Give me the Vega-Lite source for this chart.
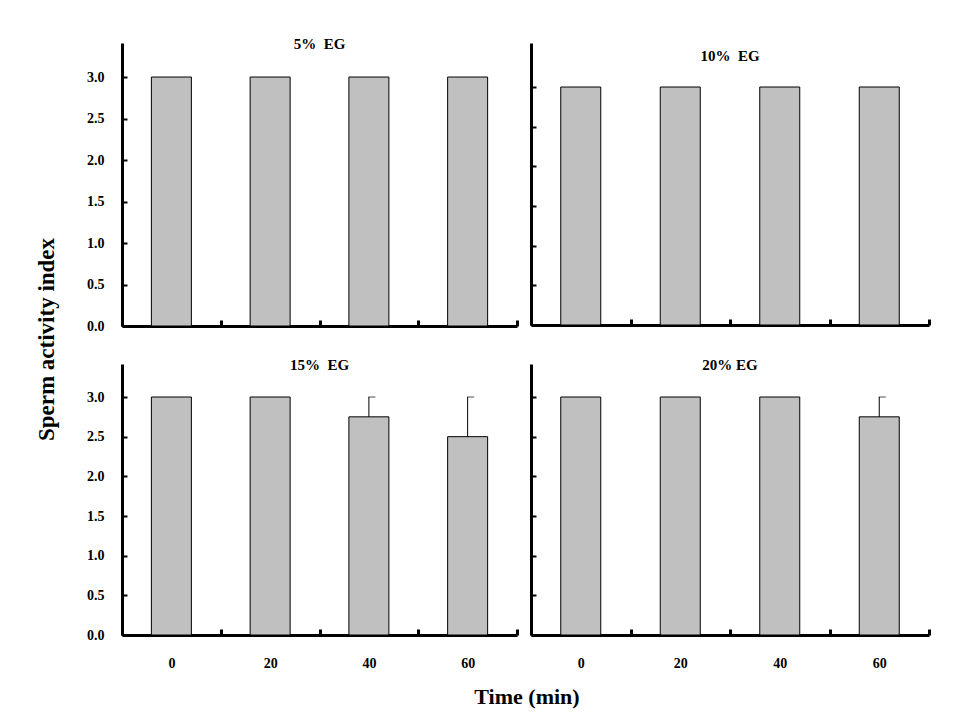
{
  "$schema": "https://vega.github.io/schema/vega-lite/v6.json",
  "background": "white",
  "padding": {"left": 35, "top": 37, "right": 5, "bottom": 5},
  "config": {
    "view": {"stroke": null},
    "font": "Liberation Serif",
    "axis": {"grid": false, "domainColor": "black", "tickColor": "black", "labelColor": "black", "labelFont": "Liberation Serif", "labelFontWeight": "bold", "labelFontSize": 14, "titleFont": "Liberation Serif", "titleFontWeight": "bold", "titleColor": "black"},
    "title": {"font": "Liberation Serif", "fontSize": 15, "fontWeight": "bold", "color": "black", "anchor": "middle", "frame": "group", "baseline": "middle"}
  },
  "data": {"values": [
    {"panel": "5%", "time": "0", "mean": 3.0},
    {"panel": "5%", "time": "20", "mean": 3.0},
    {"panel": "5%", "time": "40", "mean": 3.0},
    {"panel": "5%", "time": "60", "mean": 3.0},
    {"panel": "10%", "time": "0", "mean": 3.0},
    {"panel": "10%", "time": "20", "mean": 3.0},
    {"panel": "10%", "time": "40", "mean": 3.0},
    {"panel": "10%", "time": "60", "mean": 3.0},
    {"panel": "15%", "time": "0", "mean": 3.0},
    {"panel": "15%", "time": "20", "mean": 3.0},
    {"panel": "15%", "time": "40", "mean": 2.75, "upper": 3.0},
    {"panel": "15%", "time": "60", "mean": 2.5, "upper": 3.0},
    {"panel": "20%", "time": "0", "mean": 3.0},
    {"panel": "20%", "time": "20", "mean": 3.0},
    {"panel": "20%", "time": "40", "mean": 3.0},
    {"panel": "20%", "time": "60", "mean": 2.75, "upper": 3.0}
  ]},
  "title": {"text": "Time (min)", "orient": "bottom", "fontSize": 22, "baseline": "top", "offset": 17, "dx": 44, "frame": "bounds"},
  "vconcat": [
    {
      "title": {"text": "Sperm activity index", "orient": "left", "fontSize": 23, "baseline": "bottom", "offset": 5, "dx": 14, "frame": "bounds"},
      "columns": 2,
      "spacing": {"row": 25, "column": 10},
      "concat": [
        {
          "width": 395, "height": 283,
          "title": {"text": "5%\u00a0 EG", "offset": -9},
          "transform": [{"filter": "datum.panel == '5%'"}],
          "encoding": {
            "x": {"field": "time", "type": "nominal", "sort": ["0", "20", "40", "60"], "scale": {"paddingInner": 0, "paddingOuter": 0},
                  "axis": {"title": null, "labels": false, "domainWidth": 3, "tickBand": "extent", "tickSize": -6, "tickWidth": 3}},
            "y": {"field": "mean", "type": "quantitative", "title": null, "scale": {"domain": [0, 3.41], "nice": false},
                  "axis": {"values": [0, 0.5, 1, 1.5, 2, 2.5, 3], "format": ".1f", "domainWidth": 3, "tickSize": -5, "tickWidth": 2, "labelPadding": 23}}
          },
          "layer": [
            {"mark": {"type": "bar", "size": 40, "fill": "#c0c0c0", "stroke": "black", "strokeWidth": 1}},
            {"transform": [{"filter": "datum.upper != null"}], "mark": {"type": "rule", "color": "black", "strokeWidth": 1}, "encoding": {"y2": {"field": "upper"}}},
            {"transform": [{"filter": "datum.upper != null"}], "mark": {"type": "tick", "color": "black", "thickness": 1, "size": 7, "xOffset": 3}, "encoding": {"y": {"field": "upper", "type": "quantitative", "title": null}}}
          ]
        },
        {
          "width": 398, "height": 282,
          "title": {"text": "10%\u00a0 EG", "offset": -21},
          "transform": [{"filter": "datum.panel == '10%'"}],
          "encoding": {
            "x": {"field": "time", "type": "nominal", "sort": ["0", "20", "40", "60"], "scale": {"paddingInner": 0, "paddingOuter": 0},
                  "axis": {"title": null, "labels": false, "domainWidth": 3, "tickBand": "extent", "tickSize": -6, "tickWidth": 3}},
            "y": {"field": "mean", "type": "quantitative", "title": null, "scale": {"domain": [0, 3.555], "nice": false},
                  "axis": {"values": [0, 0.5, 1, 1.5, 2, 2.5, 3], "labels": false, "domainWidth": 3, "tickSize": -5, "tickWidth": 2}}
          },
          "layer": [
            {"mark": {"type": "bar", "size": 40, "fill": "#c0c0c0", "stroke": "black", "strokeWidth": 1}},
            {"transform": [{"filter": "datum.upper != null"}], "mark": {"type": "rule", "color": "black", "strokeWidth": 1}, "encoding": {"y2": {"field": "upper"}}},
            {"transform": [{"filter": "datum.upper != null"}], "mark": {"type": "tick", "color": "black", "thickness": 1, "size": 7, "xOffset": 3}, "encoding": {"y": {"field": "upper", "type": "quantitative", "title": null}}}
          ]
        },
        {
          "width": 395, "height": 271,
          "title": {"text": "15%\u00a0 EG", "offset": -9},
          "transform": [{"filter": "datum.panel == '15%'"}],
          "encoding": {
            "x": {"field": "time", "type": "nominal", "sort": ["0", "20", "40", "60"], "scale": {"paddingInner": 0, "paddingOuter": 0},
                  "axis": {"title": null, "labelAngle": 0, "labelPadding": 27, "domainWidth": 3, "tickBand": "extent", "tickSize": -6, "tickWidth": 3}},
            "y": {"field": "mean", "type": "quantitative", "title": null, "scale": {"domain": [0, 3.416], "nice": false},
                  "axis": {"values": [0, 0.5, 1, 1.5, 2, 2.5, 3], "format": ".1f", "domainWidth": 3, "tickSize": -5, "tickWidth": 2, "labelPadding": 23}}
          },
          "layer": [
            {"mark": {"type": "bar", "size": 40, "fill": "#c0c0c0", "stroke": "black", "strokeWidth": 1}},
            {"transform": [{"filter": "datum.upper != null"}], "mark": {"type": "rule", "color": "black", "strokeWidth": 1}, "encoding": {"y2": {"field": "upper"}}},
            {"transform": [{"filter": "datum.upper != null"}], "mark": {"type": "tick", "color": "black", "thickness": 1, "size": 7, "xOffset": 3}, "encoding": {"y": {"field": "upper", "type": "quantitative", "title": null}}}
          ]
        },
        {
          "width": 398, "height": 271,
          "title": {"text": "20% EG", "offset": -9},
          "transform": [{"filter": "datum.panel == '20%'"}],
          "encoding": {
            "x": {"field": "time", "type": "nominal", "sort": ["0", "20", "40", "60"], "scale": {"paddingInner": 0, "paddingOuter": 0},
                  "axis": {"title": null, "labelAngle": 0, "labelPadding": 27, "domainWidth": 3, "tickBand": "extent", "tickSize": -6, "tickWidth": 3}},
            "y": {"field": "mean", "type": "quantitative", "title": null, "scale": {"domain": [0, 3.416], "nice": false},
                  "axis": {"values": [0, 0.5, 1, 1.5, 2, 2.5, 3], "labels": false, "domainWidth": 3, "tickSize": -5, "tickWidth": 2}}
          },
          "layer": [
            {"mark": {"type": "bar", "size": 40, "fill": "#c0c0c0", "stroke": "black", "strokeWidth": 1}},
            {"transform": [{"filter": "datum.upper != null"}], "mark": {"type": "rule", "color": "black", "strokeWidth": 1}, "encoding": {"y2": {"field": "upper"}}},
            {"transform": [{"filter": "datum.upper != null"}], "mark": {"type": "tick", "color": "black", "thickness": 1, "size": 7, "xOffset": 3}, "encoding": {"y": {"field": "upper", "type": "quantitative", "title": null}}}
          ]
        }
      ]
    }
  ]
}
